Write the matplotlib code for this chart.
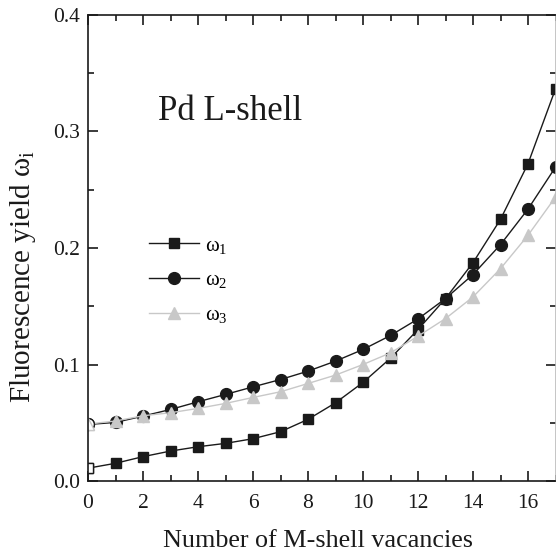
import numpy as np
import matplotlib
matplotlib.use('Agg')
import matplotlib.pyplot as plt
from matplotlib.ticker import MultipleLocator, FormatStrFormatter

# -------------------- Data ----------------------- #
vacancies = np.arange(0, 18)
omega1 = [0.011, 0.0152, 0.0209, 0.0257, 0.0294, 0.0323, 0.0363, 0.0423, 0.0529,
          0.0671, 0.0846, 0.1054, 0.130, 0.1566, 0.1874, 0.2246, 0.2723, 0.3366]
omega2 = [0.0485, 0.0503, 0.0557, 0.0614, 0.068, 0.0743, 0.0808, 0.0871, 0.0943,
          0.1029, 0.1129, 0.1249, 0.1391, 0.1566, 0.1772, 0.2029, 0.2334, 0.2694]
omega3 = [0.0489, 0.0515, 0.056, 0.0586, 0.0623, 0.0666, 0.0717, 0.0766, 0.0837,
          0.0909, 0.100, 0.110, 0.1243, 0.1394, 0.158, 0.1823, 0.2109, 0.2437]

# -------------------- Style ----------------------- #
plt.rcParams['font.family'] = ['Liberation Serif', 'DejaVu Serif']
plt.rcParams['mathtext.fontset'] = 'custom'
plt.rcParams['mathtext.rm'] = 'Liberation Serif'
plt.rcParams['mathtext.it'] = 'Liberation Serif:italic'
plt.rcParams['mathtext.default'] = 'regular'

fig = plt.figure(figsize=(5.56, 5.56), dpi=100)
ax = fig.add_axes([88 / 556, 75 / 556, 467.5 / 556, 466 / 556])

dark = '#1a1a1a'
light = '#c8c8c8'
series = [
    (omega1, 's', 7.5, dark, 'ω$_1$'),
    (omega2, 'o', 8.5, dark, 'ω$_2$'),
    (omega3, '^', 8.5, light, 'ω$_3$'),
]
for vals, mk, ms, col, lab in series:
    ax.plot(vacancies, vals, '-', marker=mk, ms=ms, color=col, mfc=col, mec=col,
            lw=1.0, label=lab)
# first point sits on the axis; drawn hollow
for vals, mk, ms, col, lab in series:
    ax.plot(vacancies[:1], vals[:1], linestyle='none', marker=mk, ms=ms,
            mfc='white', mec=col, mew=1.0)

ax.set_xlim(0, 17)
ax.set_ylim(0, 0.4)
ax.xaxis.set_major_locator(MultipleLocator(2))
ax.xaxis.set_minor_locator(MultipleLocator(1))
ax.yaxis.set_major_locator(MultipleLocator(0.1))
ax.yaxis.set_minor_locator(MultipleLocator(0.05))
ax.yaxis.set_major_formatter(FormatStrFormatter('%.1f'))

ax.tick_params(which='both', direction='in', top=True, right=True, width=1.2,
               labelsize=15.5, colors='#1a1a1a')
ax.tick_params(which='major', length=7)
ax.tick_params(which='minor', length=4)
ax.tick_params(axis='x', which='major', pad=9)
ax.tick_params(axis='y', which='major', pad=6)
for sp in ax.spines.values():
    sp.set_linewidth(1.2)
    sp.set_color('#1a1a1a')
ax.spines['right'].set_color('#bbbbbb')

ax.set_xlabel('Number of M-shell vacancies', fontsize=18.8, color='#1a1a1a')
ax.set_ylabel('Fluorescence yield ω$_i$', fontsize=21, color='#1a1a1a')
ax.xaxis.set_label_coords(0.492, -0.105)
ax.yaxis.set_label_coords(-0.108, 0.44)

ax.text(2.55, 0.3103, 'Pd L-shell', fontsize=25, va='baseline', color='#1a1a1a')

ax.legend(loc='upper left', bbox_to_anchor=(0.1086, 0.548), frameon=False, fontsize=15,
          handlelength=2.4, handletextpad=0.3, labelspacing=0.73, borderpad=0)

fig.savefig('out.png', dpi=100)
